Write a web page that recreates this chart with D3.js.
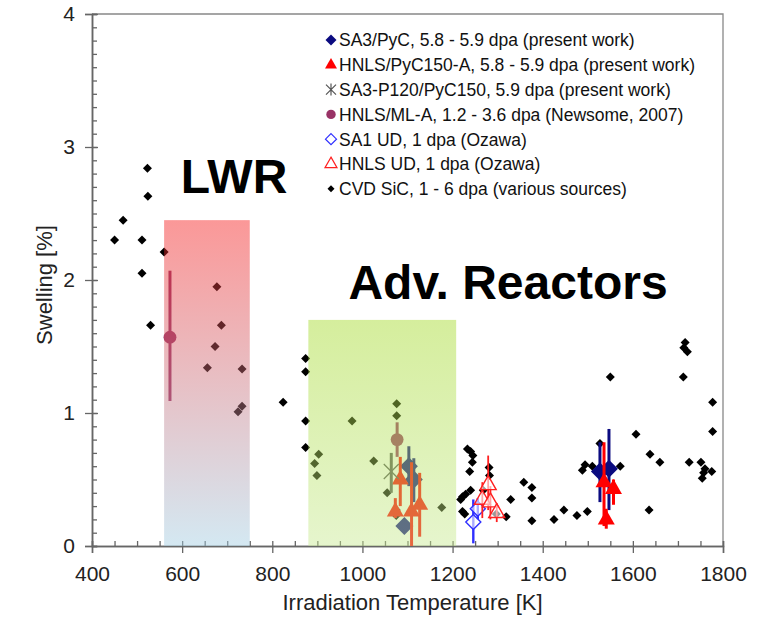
<!DOCTYPE html>
<html>
<head>
<meta charset="utf-8">
<script src="https://cdn.jsdelivr.net/npm/d3@7"></script>
<style>
  body { margin: 0; background: #fff; }
  text { font-family: "Liberation Sans", Arial, sans-serif; }
</style>
</head>
<body>
<div id="chart"></div>
<script>
// CVD SiC, 1 - 6 dpa (various sources): [temperature K, swelling %]
const cvdSiC = [
  [523, 2.84], [524, 2.63], [469, 2.45], [450, 2.30], [511, 2.30], [560, 2.21], [511, 2.05],
  [530, 1.66], [677, 1.95], [687, 1.66], [673, 1.50], [656, 1.34], [733, 1.33], [733, 1.05],
  [724, 1.01], [824, 1.08], [874, 1.41], [874, 1.31], [874, 0.94], [874, 0.74], [903, 0.69],
  [894, 0.62], [899, 0.53], [977, 0.94], [1025, 0.64], [1076, 1.07], [1076, 0.98], [1055, 0.40],
  [1075, 0.27], [1075, 0.23], [1176, 0.29], [1233, 0.73], [1240, 0.71], [1245, 0.68],
  [1244, 0.63], [1238, 0.56], [1240, 0.42], [1229, 0.39], [1222, 0.37], [1218, 0.35],
  [1222, 0.26], [1227, 0.24], [1268, 0.42], [1281, 0.59], [1282, 0.53], [1297, 0.24],
  [1319, 0.22], [1329, 0.35], [1358, 0.48], [1376, 0.44], [1376, 0.36], [1376, 0.19],
  [1425, 0.20], [1447, 0.27], [1476, 0.23], [1499, 0.26], [1488, 0.57], [1494, 0.61],
  [1510, 0.60], [1527, 0.77], [1550, 1.27], [1572, 0.60], [1607, 0.84], [1638, 0.69],
  [1660, 0.63], [1636, 0.27], [1716, 1.53], [1713, 1.49], [1721, 1.46], [1712, 1.27],
  [1777, 1.08], [1777, 0.86], [1725, 0.63], [1751, 0.63], [1760, 0.58], [1757, 0.55],
  [1754, 0.51], [1775, 0.56]
];

// series with error bars: [temperature, swelling, low, high]
const sa3PyC = [
  [1103, 0.60, 0.45, 0.75], [1114, 0.50, 0.33, 0.66], [1093, 0.15, 0.15, 0.15],
  [1527, 0.56, 0.33, 0.78], [1547, 0.58, 0.27, 0.88]
];
const hnlsPyC150 = [
  [1084, 0.50, 0.30, 0.67], [1073, 0.26, 0.21, 0.36], [1109, 0.26, -0.1, 0.63],
  [1127, 0.31, 0.07, 0.55], [1536, 0.48, 0.15, 0.78], [1557, 0.43, 0.31, 0.50],
  [1541, 0.20, 0.13, 0.28]
];
const sa3P120 = [[1064, 0.56, 0.40, 0.70]];
const hnlsMLA = [[573, 1.57, 1.09, 2.07], [1077, 0.80, 0.67, 0.93]];
const sa1UD = [[1246, 0.18, 0.02, 0.35], [1256, 0.28, 0.20, 0.36]];
const hnlsUD = [
  [1266, 0.35, 0.21, 0.48], [1279, 0.46, 0.27, 0.68], [1284, 0.33, 0.20, 0.45],
  [1298, 0.25, 0.18, 0.32]
];

// shaded temperature bands: [from K, to K, top %]
const bands = [
  { name: "LWR", from: 560, to: 750, top: 2.45 },
  { name: "Adv. Reactors", from: 880, to: 1208, top: 1.7 }
];

const legendLabels = [
  "SA3/PyC, 5.8 - 5.9 dpa (present work)",
  "HNLS/PyC150-A, 5.8 - 5.9 dpa (present work)",
  "SA3-P120/PyC150, 5.9 dpa (present work)",
  "HNLS/ML-A, 1.2 - 3.6 dpa (Newsome, 2007)",
  "SA1 UD, 1 dpa (Ozawa)",
  "HNLS UD, 1 dpa (Ozawa)",
  "CVD SiC, 1 - 6 dpa (various sources)"
];

const xTicks = [400, 600, 800, 1000, 1200, 1400, 1600, 1800];
const yTicks = [0, 1, 2, 3, 4];

const W = 759, H = 617;
const margin = { top: 14, right: 36, bottom: 71, left: 92 };

const svg = d3.select("#chart").append("svg")
  .attr("width", W).attr("height", H);

const x = d3.scaleLinear().domain([400, 1800]).range([margin.left, W - margin.right]);
const y = d3.scaleLinear().domain([0, 4]).range([H - margin.bottom, margin.top]);

const axisColor = "#666";

svg.append("clipPath").attr("id", "plot-clip")
  .append("rect")
  .attr("x", x(400)).attr("y", y(4))
  .attr("width", x(1800) - x(400)).attr("height", y(0) - y(4));

// frame (top and right)
svg.append("path")
  .attr("d", `M${x(400)},${y(4)}H${x(1800)}V${y(0)}`)
  .attr("fill", "none").attr("stroke", "#888").attr("stroke-width", 1.3);

// x axis
const xAxis = svg.append("g").attr("transform", `translate(0,${y(0)})`);
xAxis.call(d3.axisBottom(x).tickValues(d3.range(400, 1801, 50)).tickSize(-5).tickFormat(""));
xAxis.append("g").call(d3.axisBottom(x).tickValues(xTicks).tickSize(7).tickPadding(12).tickFormat(d3.format("d")));
xAxis.selectAll("path.domain").attr("stroke", axisColor).attr("stroke-width", 1.5);
xAxis.selectAll(".tick line").attr("stroke", axisColor).attr("stroke-width", 1.3);
xAxis.selectAll(".tick text").attr("font-size", 21).attr("fill", "#222").attr("dy", "0.75em");

// y axis
const yAxis = svg.append("g").attr("transform", `translate(${x(400)},0)`);
yAxis.call(d3.axisLeft(y).tickValues(d3.range(0, 40.5, 1).map(d => d / 10)).tickSize(-5).tickFormat(""));
yAxis.append("g").call(d3.axisLeft(y).tickValues(yTicks).tickSize(7).tickPadding(10).tickFormat(d3.format("d")));
yAxis.selectAll("g > g > .tick line").attr("x1", 6).attr("x2", -7);
yAxis.selectAll("path.domain").attr("stroke", axisColor).attr("stroke-width", 1.5);
yAxis.selectAll(".tick line").attr("stroke", axisColor).attr("stroke-width", 1.3);
yAxis.selectAll(".tick text").attr("font-size", 21).attr("fill", "#222");

// axis titles
svg.append("text")
  .attr("x", (x(400) + x(1800)) / 2 + 5).attr("y", 610)
  .attr("text-anchor", "middle").attr("font-size", 22).attr("fill", "#222")
  .text("Irradiation Temperature [K]");
svg.append("text")
  .attr("transform", `translate(52,${(y(0) + y(4)) / 2 + 5}) rotate(-90)`)
  .attr("text-anchor", "middle").attr("font-size", 22).attr("fill", "#222")
  .text("Swelling [%]");

// marker shapes
const diamond = s => `M0,${-s}L${s},0L0,${s}L${-s},0Z`;
const triangle = s => `M0,${-s * 1.15}L${s},${s * 0.6}L${-s},${s * 0.6}Z`;
const star = s => `M${-s},${-s}L${s},${s}M${-s},${s}L${s},${-s}M0,${-s * 1.2}V${s * 1.2}`;

const plot = svg.append("g").attr("clip-path", "url(#plot-clip)");

// CVD SiC
plot.append("g").selectAll("path").data(cvdSiC).join("path")
  .attr("transform", d => `translate(${x(d[0])},${y(d[1])})`)
  .attr("d", diamond(4.5)).attr("fill", "#000");

function series(data, color, shape, filled, sw) {
  const g = plot.append("g");
  g.selectAll("line").data(data.filter(d => d[3] > d[2])).join("line")
    .attr("x1", d => x(d[0])).attr("x2", d => x(d[0]))
    .attr("y1", d => y(Math.max(0, d[2]))).attr("y2", d => y(d[3]))
    .attr("stroke", color).attr("stroke-width", sw);
  g.selectAll("path").data(data).join("path")
    .attr("transform", d => `translate(${x(d[0])},${y(d[1])})`)
    .attr("d", shape)
    .attr("fill", filled ? color : "#fff")
    .attr("fill-opacity", filled ? 1 : 0.6)
    .attr("stroke", color).attr("stroke-width", filled ? 0 : 1.4);
}

const cNavy = "#0b0b80", cRed = "#ff0000", cGray = "#555", cPurple = "#993366",
      cBlue = "#2f2fff", cRed2 = "#ff2020";

series(sa1UD, cBlue, diamond(7.5), false, 2.4);
series(hnlsUD, cRed2, triangle(8), false, 1.8);
series(sa3PyC, cNavy, diamond(9), true, 3);
series(hnlsPyC150, cRed, triangle(8.5), true, 3);
series(hnlsMLA, cPurple, d3.symbol(d3.symbolCircle, 130)(), true, 3);
// SA3-P120 star
{
  const g = plot.append("g");
  g.selectAll("line").data(sa3P120).join("line")
    .attr("x1", d => x(d[0])).attr("x2", d => x(d[0]))
    .attr("y1", d => y(d[2])).attr("y2", d => y(d[3]))
    .attr("stroke", cGray).attr("stroke-width", 3);
  g.selectAll("path").data(sa3P120).join("path")
    .attr("transform", d => `translate(${x(d[0])},${y(d[1])})`)
    .attr("d", star(7.5)).attr("fill", "none").attr("stroke", cGray).attr("stroke-width", 1.3);
}

// shaded bands drawn translucently on top of the data
const defs = svg.append("defs");
const grads = [
  { id: "g-lwr", top: "#f61a1a", bottom: "#9fcce2" },
  { id: "g-adv", top: "#a2d925", bottom: "#c7e990" }
];
grads.forEach(g => {
  const lg = defs.append("linearGradient").attr("id", g.id)
    .attr("x1", 0).attr("y1", 0).attr("x2", 0).attr("y2", 1);
  lg.append("stop").attr("offset", "0%").attr("stop-color", g.top);
  lg.append("stop").attr("offset", "100%").attr("stop-color", g.bottom);
});
svg.append("g").selectAll("rect").data(bands).join("rect")
  .attr("x", d => x(d.from)).attr("y", d => y(d.top))
  .attr("width", d => x(d.to) - x(d.from)).attr("height", d => y(0) - y(d.top))
  .attr("fill", (d, i) => `url(#${grads[i].id})`)
  .attr("fill-opacity", 0.45);

// band labels
svg.append("text").attr("x", 234).attr("y", 193)
  .attr("text-anchor", "middle").attr("font-size", 48).attr("font-weight", "bold")
  .text(bands[0].name);
svg.append("text").attr("x", 508).attr("y", 299)
  .attr("text-anchor", "middle").attr("font-size", 48).attr("font-weight", "bold")
  .text(bands[1].name);

// legend
const legendShapes = [
  { d: diamond(5.5), fill: cNavy, stroke: "none" },
  { d: triangle(6), fill: cRed, stroke: "none" },
  { d: star(5), fill: "none", stroke: cGray },
  { d: d3.symbol(d3.symbolCircle, 70)(), fill: cPurple, stroke: "none" },
  { d: diamond(5.5), fill: "#fff", stroke: cBlue },
  { d: triangle(6), fill: "#fff", stroke: cRed2 },
  { d: diamond(3.5), fill: "#000", stroke: "none" }
];
const legend = svg.append("g").attr("transform", "translate(331,40)");
const li = legend.selectAll("g").data(legendLabels).join("g")
  .attr("transform", (d, i) => `translate(0,${i * 24.8})`);
li.append("path")
  .attr("d", (d, i) => legendShapes[i].d)
  .attr("fill", (d, i) => legendShapes[i].fill)
  .attr("stroke", (d, i) => legendShapes[i].stroke)
  .attr("stroke-width", 1.2);
li.append("text").attr("x", 8).attr("dy", "0.36em")
  .attr("font-size", 17.5).attr("fill", "#111")
  .text(d => d);
</script>
</body>
</html>
